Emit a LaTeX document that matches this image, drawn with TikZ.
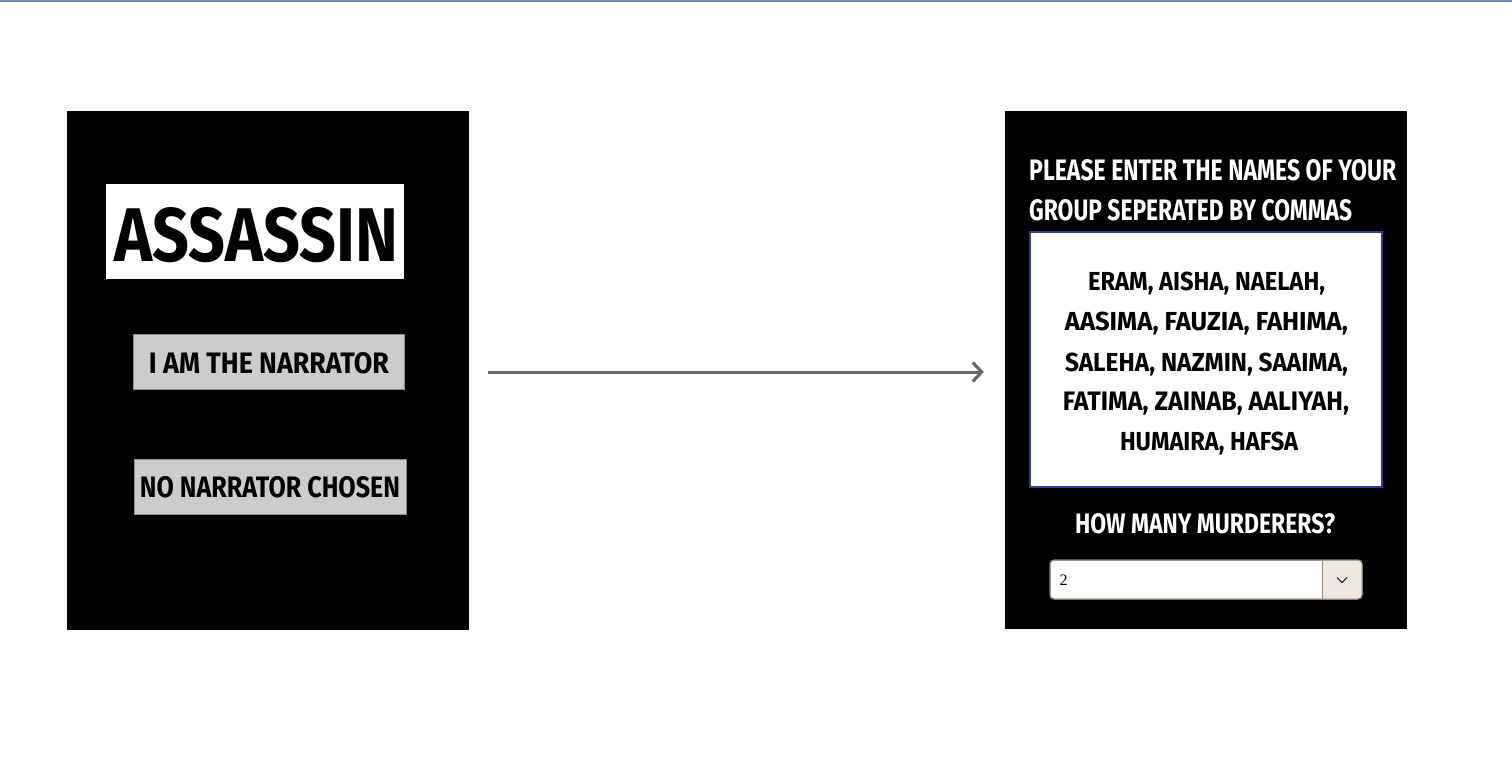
\documentclass[tikz,border=0pt]{standalone}
\usepackage{fontspec}
\setmainfont{Fira Sans}
\newfontfamily\numfont{Liberation Serif}
\usepackage{graphicx}
\usetikzlibrary{arrows.meta}
\definecolor{topline}{RGB}{106,138,178}
\definecolor{btngray}{RGB}{204,204,204}
\definecolor{btnedge}{RGB}{140,140,140}
\definecolor{inputblue}{RGB}{46,64,138}
\definecolor{arrowgray}{RGB}{102,102,102}
\definecolor{dropedge}{RGB}{150,140,125}
\definecolor{dropbtn}{RGB}{236,233,226}
\newcommand{\fitbox}[3]{\resizebox{#1}{#2}{\bfseries #3}}
\tikzset{
  panel/.style={fill=black, draw=none, rectangle, inner sep=0pt},
  whitebox/.style={fill=white, draw=none, rectangle, inner sep=0pt},
  btnbox/.style={fill=btngray, draw=btnedge, line width=0.8pt, rectangle, inner sep=0pt},
  inputbox/.style={fill=white, draw=inputblue, line width=2.8pt, rectangle, inner sep=0pt},
  blacktext/.style={text=black, inner sep=0pt, anchor=base},
  whitetext/.style={text=white, inner sep=0pt, anchor=base},
  flowarrow/.style={draw=arrowgray, line width=3pt, -{Straight Barb[length=9pt,width=19pt,line width=3pt]}},
  dropbox/.style={fill=white, draw=dropedge, line width=1pt, rounded corners=4pt, rectangle, inner sep=0pt},
}
\begin{document}
\begin{tikzpicture}[x=1pt,y=-1pt]
\useasboundingbox (0,0) rectangle (1512,770);
\fill[white] (0,0) rectangle (1512,770);
\draw[topline, line width=2pt] (0,1) -- (1512,1);

% left panel
\node[panel, minimum width=402pt, minimum height=519pt] (lp) at (268,370.5) {};
\node[whitebox, minimum width=298pt, minimum height=95pt] (title) at (255,231.5) {};
\node[blacktext] (titletext) at (256.5,261) {\fitbox{284pt}{54pt}{ASSASSIN}};
\node[btnbox, minimum width=271pt, minimum height=55pt] (btn1) at (268.5,361.5) {};
\node[blacktext] (btn1text) at (269,373) {\fitbox{240pt}{21pt}{I AM THE NARRATOR}};
\node[btnbox, minimum width=272pt, minimum height=55pt] (btn2) at (270,486.5) {};
\node[blacktext] (btn2text) at (270,497) {\fitbox{260pt}{21pt}{NO NARRATOR CHOSEN}};

% right panel
\node[panel, minimum width=402pt, minimum height=518pt] (rp) at (1206,370) {};
\node[whitetext, anchor=base west] (q1) at (1029,181) {\fitbox{367pt}{21pt}{PLEASE ENTER THE NAMES OF YOUR}};
\node[whitetext, anchor=base west] (q2) at (1029,220) {\fitbox{323pt}{21pt}{GROUP SEPERATED BY COMMAS}};
\node[inputbox, minimum width=352pt, minimum height=255pt] (names) at (1206,359.5) {};
\node[blacktext] (n1) at (1206.5,290) {\fitbox{237pt}{18.5pt}{ERAM, AISHA, NAELAH,}};
\node[blacktext] (n2) at (1206.5,330) {\fitbox{283pt}{18.5pt}{AASIMA, FAUZIA, FAHIMA,}};
\node[blacktext] (n3) at (1206.5,371) {\fitbox{283pt}{18.5pt}{SALEHA, NAZMIN, SAAIMA,}};
\node[blacktext] (n4) at (1206,410) {\fitbox{286pt}{18.5pt}{FATIMA, ZAINAB, AALIYAH,}};
\node[blacktext] (n5) at (1209,450) {\fitbox{178pt}{18.5pt}{HUMAIRA, HAFSA}};
\node[whitetext] (q3) at (1205,533) {\fitbox{260pt}{20pt}{HOW MANY MURDERERS?}};

% dropdown
\node[dropbox, minimum width=312pt, minimum height=39pt] (drop) at (1206,579.5) {};
\fill[dropbtn, rounded corners=3.5pt] (1322,560.5) -- (1361.5,560.5) -- (1361.5,598.5) -- (1322,598.5) -- cycle;
\draw[dropedge, line width=1pt, rounded corners=4pt] (1050,560) rectangle (1362,599);
\draw[dropedge, line width=1pt] (1322,560.5) -- (1322,598.5);
\draw[black, line width=1pt] (1337,577.5) -- (1342,582.5) -- (1347,577.5);
\node[text=black, inner sep=0pt, anchor=base west] (dropval) at (1059.5,585.5) {\numfont\fontsize{16}{18}\selectfont 2};

% connector
\draw[flowarrow] ([xshift=19pt,yshift=-1.5pt]lp.east) -- ([xshift=-21pt,yshift=-2pt]rp.west);
\end{tikzpicture}
\end{document}
